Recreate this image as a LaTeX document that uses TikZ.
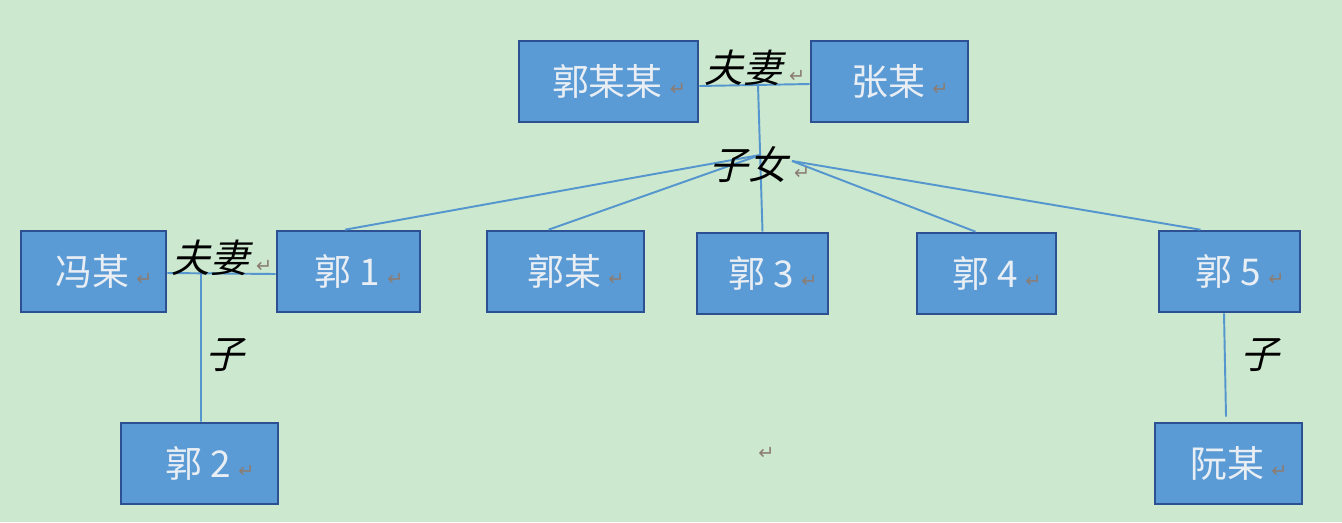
\documentclass[tikz,border=0pt]{standalone}
\usepackage{fontspec}
\usepackage{tikz}
\usetikzlibrary{calc}
\newfontfamily\cjk{Noto Sans CJK SC}
\newfontfamily\cjkslant[FakeSlant=0.25]{Noto Sans CJK SC}
\newfontfamily\markfont{DejaVu Sans}
\definecolor{paper}{RGB}{204,232,207}
\definecolor{boxfill}{RGB}{91,155,213}
\definecolor{boxedge}{RGB}{44,80,146}
\definecolor{boxtext}{RGB}{232,238,244}
\definecolor{link}{RGB}{84,150,205}
\definecolor{markgray}{RGB}{140,125,115}
\newcommand{\retmark}{\hspace{4pt}{\markfont\fontsize{11}{11}\selectfont\textcolor{markgray}{↵}}}
\newcommand{\who}[1]{\hspace{12pt}#1\retmark}
\tikzset{
  person/.style={draw=boxedge, fill=boxfill, line width=1.5pt, text=boxtext,
    minimum height=1.62cm, inner sep=0pt,
    font=\cjk\fontsize{21}{21}\selectfont},
  relation/.style={text=black, inner sep=0pt,
    font=\cjkslant\fontsize{22}{22}\selectfont},
  link/.style={draw=link, line width=1.1pt}
}

\begin{document}
\begin{tikzpicture}[x=0.02cm, y=-0.02cm]
            % page
            \fill[paper] (0,0) rectangle (1342,522);
            \useasboundingbox (0,0) rectangle (1342,522);

            % coordinates for the nodes
            \node (gmm) at (608.5,81.5) [person, minimum width=3.58cm]{\who{郭某某}};
            \node (zm) at (889.5,81.5) [person, minimum width=3.14cm]{\who{张某}};
            \node (fm) at (93.5,271.5) [person, minimum width=2.90cm]{\who{冯某}};
            \node (g1) at (348.5,271.5) [person, minimum width=2.86cm]{\who{郭 1}};
            \node (gm) at (565.5,271.5) [person, minimum width=3.14cm]{\who{郭某}};
            \node (g3) at (762.5,273.5) [person, minimum width=2.62cm]{\who{郭 3}};
            \node (g4) at (986.5,273.5) [person, minimum width=2.78cm]{\who{郭 4}};
            \node (g5) at (1229.5,271.5) [person, minimum width=2.82cm]{\who{郭 5}};
            \node (g2) at (199.5,463.5) [person, minimum width=3.14cm]{\who{郭 2}};
            \node (rm) at (1228.5,463.5) [person, minimum width=2.94cm]{\who{阮某}};

            % junctions
            \coordinate (top) at (758,85);
            \coordinate (hub) at (760,155);
            \coordinate (hubr) at (792,161);
            \coordinate (left) at (201,273);

            % top couple and their children
            \draw[link] ([yshift=-0.09cm]gmm.east) -- ([yshift=-0.05cm]zm.west);
            \draw[link] (top) -- (g3.north);
            \draw[link] (hub) -- ([xshift=-0.07cm]g1.north);
            \draw[link] (hub) -- ([xshift=-0.34cm]gm.north);
            \draw[link] (hubr) -- ([xshift=-0.22cm]g4.north);
            \draw[link] (hubr) -- ([xshift=-0.58cm]g5.north);

            % left couple
            \draw[link] ([yshift=-0.03cm]fm.east) -- ([yshift=-0.05cm]g1.west);
            \draw[link] (left) -- ([xshift=0.03cm]g2.north);

            % right child
            \draw[link] ([xshift=-0.11cm]g5.south) -- ([xshift=-0.05cm,yshift=0.1cm]rm.north);

            % labels
            \node (fq1) at (755,68) [relation]{夫妻\retmark};
            \node (zn) at (760,165) [relation]{子女\retmark};
            \node (fq2) at (222,258) [relation]{夫妻\retmark};
            \node (z1) at (225,355) [relation]{子};
            \node (z2) at (1260,355) [relation]{子};
            \node (stray) at (763,453) {\retmark};
\end{tikzpicture}
\end{document}
